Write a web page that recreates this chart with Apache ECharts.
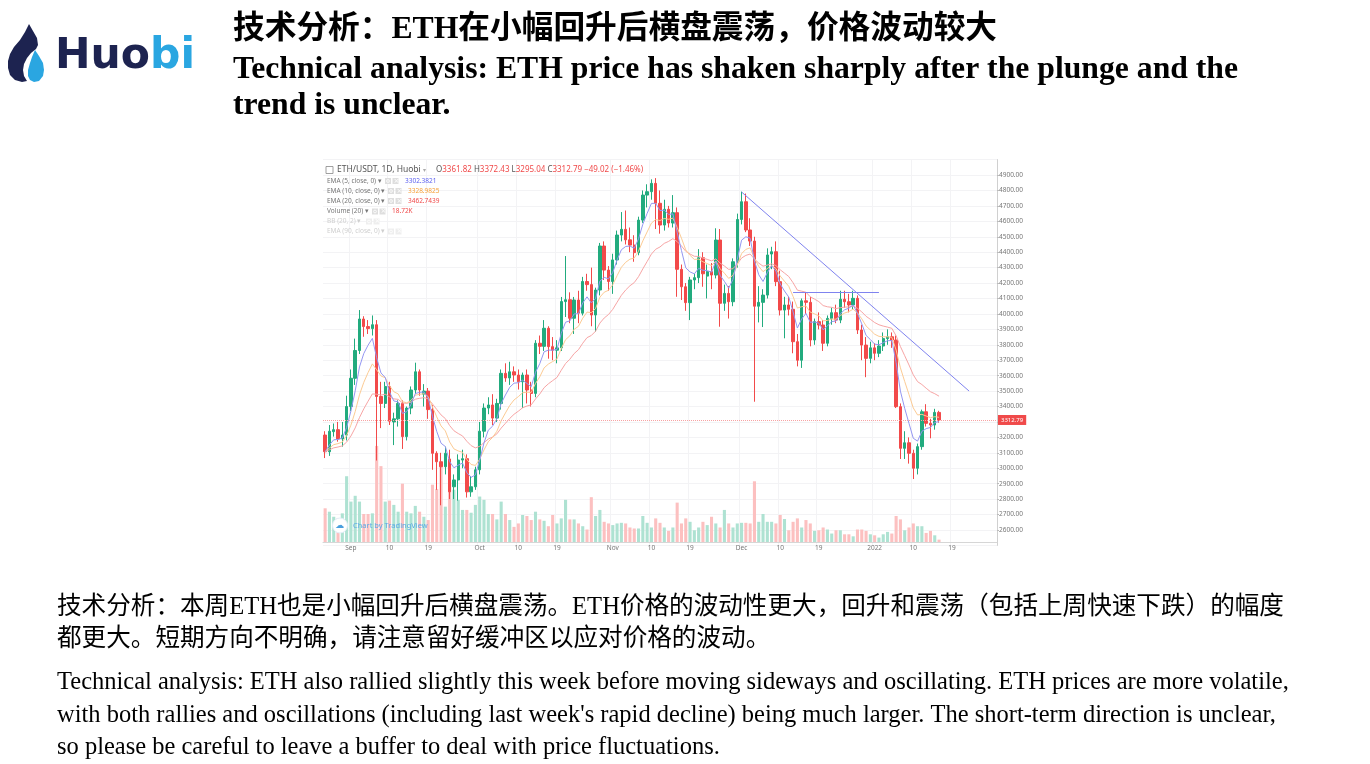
<!DOCTYPE html>
<html>
<head>
<meta charset="utf-8">
<title>ETH technical analysis</title>
<script src="https://cdn.jsdelivr.net/npm/echarts@6/dist/echarts.min.js"></script>
<style>
  html, body { margin: 0; padding: 0; background: #fff; }
  #main { width: 1370px; height: 764px; }
</style>
</head>
<body>
<div id="main"></div>
<script>
// ETH/USDT 1D (Huobi), one candle per day from 2021-08-26 to 2022-01-16
var startDay = '2021-08-26';
var padDays = 13; // empty days right of the last candle

var opens = [
  3215, 3107, 3237, 3250, 3190, 3215,
  3400, 3583, 3763, 3967, 3918, 3905, 3930, 3465, 3420, 3530, 3300, 3320, 3420, 3205, 3390,
  3507, 3625, 3480, 3500, 3380, 3097, 3042, 3010, 3060, 2880, 2924, 3053, 3062, 2847, 2880,
  2990, 3240, 3390, 3410, 3325, 3420, 3615, 3585, 3625, 3604, 3560, 3604, 3507, 3485, 3810,
  3790, 3907, 3788, 3765, 3780, 4080, 4092, 3972, 4090, 4005, 4210, 4190, 3993, 4155, 4440, 4284,
  4210, 4350, 4511, 4548, 4480, 4446, 4397, 4608, 4770, 4792, 4846, 4717, 4576, 4678, 4589,
  4656, 4289, 4176, 4073, 4220, 4235, 4364, 4245, 4274, 4252, 4479, 4069, 4133, 4079, 4338,
  4612, 4727, 4544, 4472, 4050, 4075, 4122, 4388, 4403, 4209, 4025, 4058, 4030, 3820, 3700,
  4085, 4075, 3831, 3950, 3928, 3810, 3971, 4008, 3960, 4095, 4079, 4058, 4101, 3896, 3798, 3712,
  3780, 3745, 3792, 3840, 3852, 3831, 3399, 3129, 3165, 3097, 3000, 3140, 3366, 3291, 3280, 3361.82
];
var highs = [
  3240, 3280, 3290, 3300, 3300, 3470,
  3640, 3840, 4025, 3985, 3960, 3990, 3960, 3560, 3560, 3560, 3360, 3440, 3440, 3400, 3530,
  3684, 3640, 3545, 3520, 3410, 3110, 3100, 3140, 3120, 2960, 3090, 3120, 3090, 2950, 3010,
  3300, 3420, 3460, 3480, 3450, 3640, 3680, 3690, 3660, 3640, 3620, 3640, 3560, 3830, 3860,
  3960, 3920, 3850, 3830, 4110, 4375, 4140, 4110, 4150, 4240, 4260, 4300, 4170, 4460, 4470, 4310,
  4390, 4540, 4660, 4670, 4560, 4510, 4630, 4800, 4840, 4872, 4880, 4800, 4740, 4700, 4770,
  4690, 4320, 4200, 4240, 4260, 4420, 4400, 4320, 4330, 4555, 4550, 4190, 4180, 4360, 4650,
  4792, 4780, 4620, 4500, 4180, 4160, 4425, 4435, 4470, 4280, 4111, 4110, 4080, 3870, 4100,
  4140, 4110, 3970, 4010, 3960, 3990, 4040, 4060, 4150, 4150, 4130, 4150, 4120, 3930, 3850, 3820,
  3810, 3830, 3880, 3900, 3880, 3860, 3420, 3240, 3200, 3120, 3160, 3380, 3415, 3320, 3385, 3372.43
];
var lows = [
  3066, 3080, 3205, 3172, 3140, 3180,
  3370, 3540, 3740, 3852, 3870, 3860, 3050, 3260, 3390, 3280, 3150, 3270, 3125, 3180, 3350,
  3480, 3470, 3400, 3320, 2990, 2860, 2760, 2960, 2800, 2800, 2790, 3000, 2810, 2815, 2860,
  2960, 3200, 3350, 3280, 3300, 3380, 3560, 3540, 3560, 3510, 3390, 3420, 3400, 3460, 3740,
  3760, 3710, 3700, 3680, 3760, 3980, 3940, 3870, 3940, 3990, 4150, 3920, 3885, 4120, 4220, 4150,
  4130, 4320, 4470, 4450, 4400, 4338, 4380, 4590, 4690, 4740, 4550, 4520, 4540, 4560, 4560,
  4111, 4090, 4020, 3960, 4160, 4200, 4176, 4100, 4160, 4230, 3917, 4020, 3970, 4050, 4300,
  4580, 4530, 4440, 3431, 3945, 3915, 4100, 4290, 4180, 3990, 3842, 3990, 3745, 3660, 3650,
  4000, 3790, 3800, 3900, 3760, 3790, 3930, 3940, 3940, 4040, 4010, 4030, 3870, 3700, 3590, 3680,
  3700, 3720, 3760, 3800, 3780, 3390, 3060, 3060, 3030, 2930, 2960, 3120, 3270, 3194, 3250, 3295.04
];
var closes = [
  3107, 3240, 3250, 3190, 3215, 3400,
  3583, 3763, 3967, 3918, 3905, 3930, 3465, 3420, 3530, 3305, 3320, 3420, 3205, 3390, 3507,
  3625, 3507, 3500, 3380, 3097, 3042, 3010, 3097, 2847, 2924, 3053, 3062, 2847, 2880, 2990,
  3240, 3390, 3410, 3325, 3420, 3615, 3585, 3625, 3604, 3560, 3604, 3507, 3485, 3810, 3790,
  3907, 3788, 3765, 3780, 4080, 4092, 3972, 4090, 4005, 4210, 4190, 3993, 4155, 4440, 4284, 4210,
  4350, 4511, 4548, 4480, 4446, 4397, 4608, 4770, 4792, 4846, 4717, 4576, 4678, 4589, 4656,
  4289, 4176, 4073, 4220, 4235, 4364, 4260, 4274, 4252, 4479, 4069, 4133, 4079, 4338, 4612,
  4727, 4544, 4472, 4050, 4075, 4122, 4382, 4403, 4209, 4025, 4058, 4030, 3820, 3700, 4085,
  4075, 3831, 3950, 3928, 3810, 3971, 4008, 3960, 4095, 4079, 4058, 4101, 3896, 3798, 3712, 3780,
  3745, 3792, 3840, 3852, 3831, 3399, 3129, 3165, 3097, 3000, 3140, 3366, 3291, 3280, 3361.82, 3312.79
];
// volume in thousands
var volumes = [
  267, 240, 200, 187, 227, 521,
  320, 366, 320, 222, 222, 227, 761, 601, 320, 328, 294, 240, 462, 240, 227,
  286, 240, 200, 174, 454, 419, 601, 280, 473, 414, 334, 254, 254, 232, 294,
  360, 334, 222, 222, 179, 320, 222, 174, 120, 147, 214, 206, 174, 240, 179,
  168, 125, 214, 147, 187, 334, 179, 179, 147, 125, 99, 355, 206, 254, 160, 147,
  134, 147, 152, 147, 115, 107, 107, 206, 152, 115, 187, 152, 115, 88, 115,
  312, 147, 187, 160, 93, 115, 160, 134, 200, 147, 115, 254, 147, 115, 147,
  152, 152, 147, 481, 160, 222, 160, 160, 147, 214, 182, 93, 160, 187, 115,
  174, 147, 88, 93, 115, 99, 67, 93, 93, 61, 61, 45, 99, 99, 88, 61,
  53, 35, 61, 80, 67, 206, 179, 93, 115, 147, 125, 125, 72, 88, 53, 18.72
];
var lastPrice = 3312.79;
// drawn trend lines: [date, price] pairs
var downTrend = [['2021-12-01', 4790], ['2022-01-23', 3500]];
var flatLine = [['2021-12-13', 4142], ['2022-01-02', 4142]];

var UP = '#22ab7e', DOWN = '#f24a4a';
var VOL_UP = '#aee2d2', VOL_DOWN = '#fcc0c0';
var CJK = '"Liberation Serif", "Noto Sans CJK SC"';

// category days
var days = [];
var t = Date.UTC(2021, 7, 26);
for (var i = 0; i < opens.length + padDays; i++) {
  days.push(new Date(t + i * 86400000).toISOString().slice(0, 10));
}

// EMA indicator from the closes (as shown by the chart's EMA studies)
function ema(vals, n) {
  var k = 2 / (n + 1), prev = vals[0], out = [];
  for (var i = 0; i < vals.length; i++) {
    prev = i === 0 ? vals[0] : vals[i] * k + prev * (1 - k);
    out.push(+prev.toFixed(2));
  }
  return out;
}

var candles = [];
for (var j = 0; j < opens.length; j++) {
  candles.push([opens[j], closes[j], lows[j], highs[j]]);
}
var volData = volumes.map(function (v, i) {
  return { value: v, itemStyle: { color: closes[i] >= opens[i] ? VOL_UP : VOL_DOWN } };
});

var monthName = { '09': 'Sep', '10': 'Oct', '11': 'Nov', '12': 'Dec', '01': '2022' };
function isLabelDay(idx, val) {
  var d = val.slice(8);
  return d === '01' || d === '10' || d === '19';
}
function dayLabel(val) {
  var d = val.slice(8);
  if (d === '01') return monthName[val.slice(5, 7)] || '';
  return String(parseInt(d, 10));
}

function txt(x, y, text, font, fill, extra) {
  var s = { text: text, x: x, y: y, font: font, fill: fill,
    textAlign: 'left', align: 'left', textVerticalAlign: 'middle', verticalAlign: 'middle' };
  if (extra) for (var key in extra) s[key] = extra[key];
  return { type: 'text', z: 100, silent: true, style: s };
}

var g = [];
// logo
g.push({ type: 'polygon', z: 100, shape: { points: [[29,24],[33,31],[37,38],[38,45],[36,49],[31,53],[27,58],[24,64],[23,70],[24,76],[27,81],[22,82],[15,80],[10,75],[8,68],[8,61],[10,54],[14,47],[20,40],[25,32]] }, style: { fill: '#1d2350' } });
g.push({ type: 'polygon', z: 100, shape: { points: [[35,50],[39,56],[43,63],[44,70],[43,76],[39,81],[34,82],[30,80],[28,76],[28,70],[30,63],[32,57]] }, style: { fill: '#2aa6e1' } });
g.push(txt(55, 57, '{a|Huo}{b|bi}', 'bold 42.5px "DejaVu Sans"', '#1d2350', {
  rich: { a: { fill: '#1d2350', font: 'bold 42.5px "DejaVu Sans"' }, b: { fill: '#2aa6e1', font: 'bold 42.5px "DejaVu Sans"' } }
}));

// headings
g.push(txt(233, 30, '技术分析：ETH在小幅回升后横盘震荡，价格波动较大', 'bold 31.7px ' + CJK, '#000'));
g.push(txt(233, 70, 'Technical analysis: ETH price has shaken sharply after the plunge and the', 'bold 31.7px "Liberation Serif"', '#000'));
g.push(txt(233, 106, 'trend is unclear.', 'bold 31.7px "Liberation Serif"', '#000'));

// body text
g.push(txt(57, 608, '技术分析：本周ETH也是小幅回升后横盘震荡。ETH价格的波动性更大，回升和震荡（包括上周快速下跌）的幅度', '24.6px ' + CJK, '#000'));
g.push(txt(57, 640, '都更大。短期方向不明确，请注意留好缓冲区以应对价格的波动。', '24.6px ' + CJK, '#000'));
g.push(txt(57, 683, 'Technical analysis: ETH also rallied slightly this week before moving sideways and oscillating. ETH prices are more volatile,', '24.5px "Liberation Serif"', '#000'));
g.push(txt(57, 716, "with both rallies and oscillations (including last week's rapid decline) being much larger. The short-term direction is unclear,", '24.5px "Liberation Serif"', '#000'));
g.push(txt(57, 748, 'so please be careful to leave a buffer to deal with price fluctuations.', '24.5px "Liberation Serif"', '#000'));

// chart legend (TradingView header)
g.push({ type: 'rect', z: 100, shape: { x: 326, y: 166.5, width: 7, height: 7 }, style: { fill: 'none', stroke: '#888', lineWidth: 0.8 } });
g.push(txt(337, 170, 'ETH/USDT, 1D, Huobi {c|▾}', '8.5px "Noto Sans"', '#555', { rich: { c: { fill: '#aaa', font: '6px "DejaVu Sans"' } } }));
g.push(txt(436, 170, 'O{r|3361.82} H{r|3372.43} L{r|3295.04} C{r|3312.79} {r|−49.02 (−1.46%)}', '8px "Noto Sans"', '#555', {
  rich: { r: { fill: '#f04a4a', font: '8px "Noto Sans"' } }
}));
function legendRow(y, label, color, iconX, value, valueColor, valueX) {
  g.push(txt(327, y, label + ' ▾', '6.5px "Noto Sans"', color));
  var ic = color === '#777' ? '#dedede' : '#eeeeee';
  g.push({ type: 'rect', z: 100, shape: { x: iconX, y: y - 3, width: 6, height: 6 }, style: { fill: ic } });
  g.push({ type: 'circle', z: 100, shape: { cx: iconX + 3, cy: y, r: 1.4 }, style: { fill: 'none', stroke: '#fff', lineWidth: 0.8 } });
  g.push({ type: 'rect', z: 100, shape: { x: iconX + 7.5, y: y - 3, width: 6, height: 6 }, style: { fill: ic } });
  g.push(txt(iconX + 8.6, y, '×', '7px "DejaVu Sans"', '#fff'));
  if (value) g.push(txt(valueX, y, value, '6.5px "Noto Sans"', valueColor));
}
legendRow(181, 'EMA (5, close, 0)', '#777', 385, '3302.3821', '#5a5ff0', 405);
legendRow(191, 'EMA (10, close, 0)', '#777', 388, '3328.9825', '#f6a038', 408);
legendRow(201, 'EMA (20, close, 0)', '#777', 388, '3462.7439', '#f04a4a', 408);
legendRow(211.5, 'Volume (20)', '#777', 372, '18.72K', '#f04a4a', 392);
legendRow(221.5, 'BB (20, 2)', '#cfcfcf', 366, null);
legendRow(231.5, 'EMA (90, close, 0)', '#cfcfcf', 388, null);

// TradingView badge
g.push({ type: 'circle', z: 100, shape: { cx: 340, cy: 525.5, r: 7.5 }, style: { fill: '#fff', stroke: '#e3eef8', lineWidth: 1 } });
g.push(txt(335.2, 525.5, '☁', '9px "DejaVu Sans"', '#4a9fde'));
g.push(txt(353, 526, 'Chart by TradingView', '7.5px "Noto Sans"', '#5aa9e6'));

var chart = echarts.init(document.getElementById('main'));
chart.setOption({
  animation: false,
  backgroundColor: '#fff',
  grid: [
    { left: 323, right: 373, top: 159.6, height: 385.8 },
    { left: 323, right: 373, top: 441, height: 101 }
  ],
  xAxis: [
    { type: 'category', gridIndex: 0, data: days, boundaryGap: true,
      axisLine: { show: false }, axisTick: { show: false }, axisLabel: { show: false },
      splitLine: { show: true, interval: isLabelDay, lineStyle: { color: '#f3f3f5', width: 1 } } },
    { type: 'category', gridIndex: 1, data: days, boundaryGap: true,
      axisLine: { show: true, lineStyle: { color: '#d6d6d6' } }, axisTick: { show: false },
      axisLabel: { interval: isLabelDay, formatter: dayLabel, fontSize: 6.5, color: '#777', margin: 3, fontFamily: 'Noto Sans' },
      splitLine: { show: false } }
  ],
  yAxis: [
    { type: 'value', gridIndex: 0, position: 'right', min: 2500, max: 5000, interval: 100, scale: true,
      axisLine: { show: true, lineStyle: { color: '#d0d0d0' } },
      axisTick: { show: true, length: 2, lineStyle: { color: '#bbb' } },
      axisLabel: { fontSize: 6.5, color: '#777', margin: 2, fontFamily: 'Noto Sans',
        showMinLabel: false, showMaxLabel: false, formatter: function (v) { return v.toFixed(2); } },
      splitLine: { show: true, lineStyle: { color: '#f3f3f5' } } },
    { type: 'value', gridIndex: 1, min: 0, max: 800, show: false, splitLine: { show: false } }
  ],
  series: [
    { type: 'bar', name: 'Volume', xAxisIndex: 1, yAxisIndex: 1, data: volData, barWidth: '72%', z: 1 },
    { type: 'candlestick', name: 'ETH/USDT', xAxisIndex: 0, yAxisIndex: 0, data: candles, barWidth: '68%', z: 3,
      itemStyle: { color: UP, color0: DOWN, borderColor: UP, borderColor0: DOWN, borderWidth: 1 },
      markLine: {
        silent: true, symbol: 'none', animation: false,
        data: [
          { yAxis: lastPrice,
            lineStyle: { color: '#f7a3a3', type: 'dotted', width: 1 },
            label: { show: true, position: 'end', distance: 1, formatter: '3312.79',
              backgroundColor: '#f04a4a', color: '#fff', fontSize: 6, padding: [2, 3, 2, 3], fontFamily: 'Noto Sans' } },
          [ { coord: downTrend[0] }, { coord: downTrend[1] } ],
          [ { coord: flatLine[0] }, { coord: flatLine[1] } ]
        ].map(function (d, i) {
          if (i === 0) return d;
          d[0].lineStyle = { color: '#7f83ef', type: 'solid', width: 1 };
          d[0].label = { show: false };
          return d;
        })
      } },
    { type: 'line', name: 'EMA 20', data: ema(closes, 20), showSymbol: false, z: 4,
      lineStyle: { color: '#f7a5a5', width: 1 }, itemStyle: { color: '#f7a5a5' } },
    { type: 'line', name: 'EMA 10', data: ema(closes, 10), showSymbol: false, z: 4,
      lineStyle: { color: '#fccb94', width: 1 }, itemStyle: { color: '#fccb94' } },
    { type: 'line', name: 'EMA 5', data: ema(closes, 5), showSymbol: false, z: 4,
      lineStyle: { color: '#9497f2', width: 1 }, itemStyle: { color: '#9497f2' } }
  ],
  graphic: g
});
</script>
</body>
</html>
